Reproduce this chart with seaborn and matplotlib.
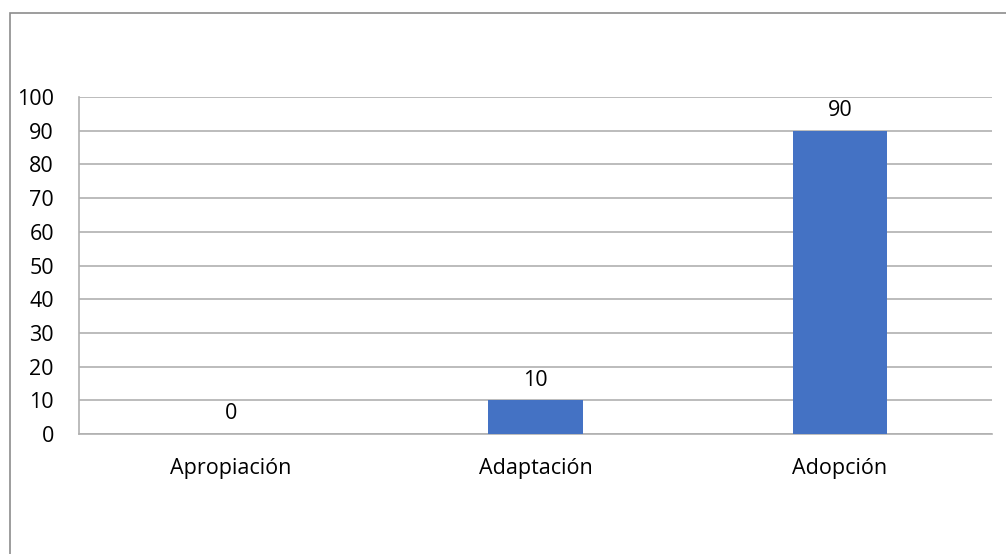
import matplotlib
matplotlib.use("Agg")
import matplotlib.pyplot as plt
import matplotlib.patches as patches
import seaborn as sns
import pandas as pd

categorias = ["Apropiación", "Adaptación", "Adopción"]
valores = [0, 10, 90]
y_ticks = [0, 10, 20, 30, 40, 50, 60, 70, 80, 90, 100]

if __name__ == '__main__':
    sns.set_style("white")
    plt.rcParams['font.family'] = ['Open Sans', 'DejaVu Sans']

    df = pd.DataFrame({"categoria": categorias, "valor": valores})

    W, H = 1006, 554
    fig = plt.figure(figsize=(W / 100, H / 100), dpi=100)
    ax = fig.add_axes([79 / W, (H - 434) / H, 913 / W, 337 / H])

    sns.barplot(data=df, x="categoria", y="valor", color="#4472C4",
                width=0.31, saturation=1, linewidth=0, ax=ax, zorder=3)

    ax.set_ylim(0, 100)
    ax.set_yticks(y_ticks)
    ax.set_xlim(-0.5, 2.5)
    ax.yaxis.grid(True, color="#b0b0b0", linewidth=1.2, zorder=0)
    ax.set_axisbelow(True)
    for s in ["top", "right"]:
        ax.spines[s].set_visible(False)
    ax.spines["left"].set_color("#b0b0b0")
    ax.spines["bottom"].set_color("#b0b0b0")
    ax.spines["left"].set_linewidth(1.2)
    ax.spines["bottom"].set_linewidth(1.2)
    ax.tick_params(axis="y", length=0, pad=18, labelsize=15.5, labelcolor="black")
    ax.tick_params(axis="x", length=0, pad=17, labelsize=15.5, labelcolor="black")
    ax.set_xlabel("")
    ax.set_ylabel("")

    for c in ax.containers:
        ax.bar_label(c, labels=[str(v) for v in valores], padding=7,
                     fontsize=15.5, color="black")

    # chart area border
    fig.patches.append(patches.Rectangle((10 / W, -0.1), 1.1, (H - 13) / H + 0.1,
                                         transform=fig.transFigure, fill=False,
                                         edgecolor="#8c8c8c", linewidth=1.2))

    fig.savefig("out.png", dpi=100)
